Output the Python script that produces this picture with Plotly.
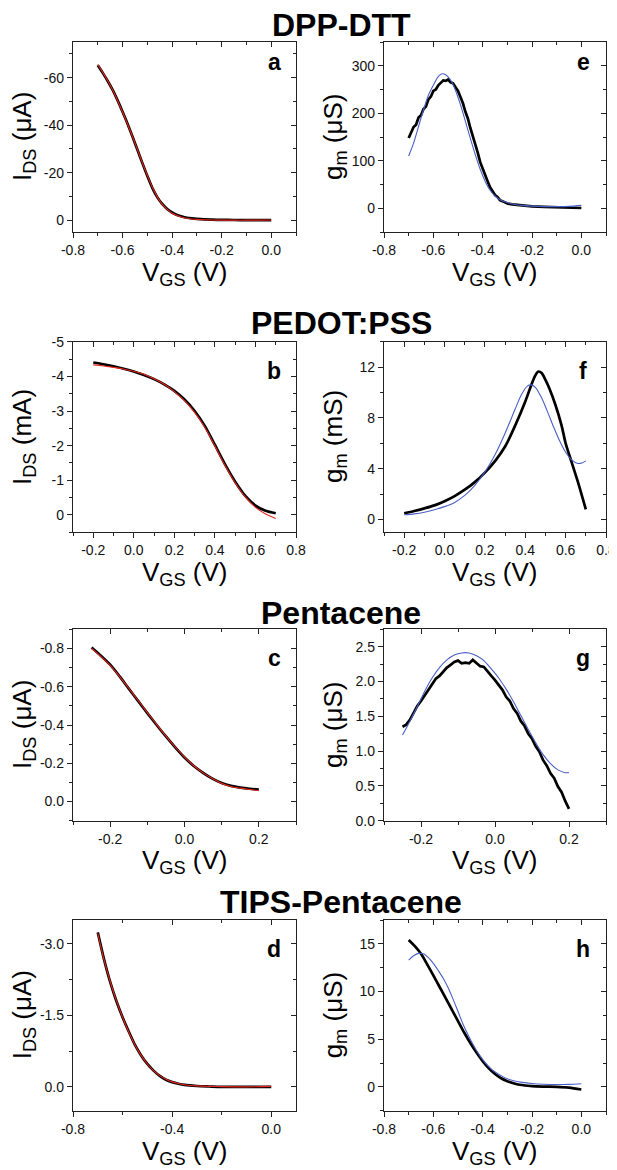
import plotly.graph_objects as go

FONT = "Liberation Sans, Arial, Helvetica, sans-serif"
PAGE_OFFSET = 8          # default <body> margin of the written page
W, H = 617 - PAGE_OFFSET, 1170 - PAGE_OFFSET

# ------------------------------------------------------------------ data
MATERIALS = ["DPP-DTT", "PEDOT:PSS", "Pentacene", "TIPS-Pentacene"]
LETTERS_LEFT = ["a", "b", "c", "d"]
LETTERS_RIGHT = ["e", "f", "g", "h"]
Y_TITLES_LEFT = ["I<sub>DS</sub> (μA)", "I<sub>DS</sub> (mA)", "I<sub>DS</sub> (μA)", "I<sub>DS</sub> (μA)"]
Y_TITLES_RIGHT = ["g<sub>m</sub> (μS)", "g<sub>m</sub> (mS)", "g<sub>m</sub> (μS)", "g<sub>m</sub> (μS)"]
X_TITLE = "V<sub>GS</sub> (V)"

# (a) DPP-DTT transfer curve
A_X = [-0.70, -0.68, -0.66, -0.64, -0.62, -0.60, -0.58, -0.56, -0.54, -0.52, -0.50, -0.48, -0.46, -0.44,
       -0.42, -0.40, -0.38, -0.36, -0.34, -0.32, -0.30, -0.27, -0.24, -0.20, -0.15, -0.10, -0.05, 0.0]
A_MEAS = [-65.2, -62.0, -58.6, -54.8, -50.4, -45.6, -40.6, -35.2, -29.6, -24.0, -18.6, -13.6, -9.7, -6.8,
          -4.7, -3.2, -2.2, -1.5, -1.0, -0.7, -0.5, -0.3, -0.2, -0.1, -0.05, -0.02, 0.0, 0.0]
A_FIT = [-65.5, -62.2, -58.7, -54.8, -50.3, -45.5, -40.5, -35.2, -29.7, -24.1, -18.8, -13.8, -9.8, -6.7,
         -4.5, -2.9, -1.9, -1.2, -0.8, -0.5, -0.3, -0.15, -0.05, 0.0, 0.02, 0.02, 0.0, -0.05]

# (e) DPP-DTT transconductance
E_X_MEAS = [-0.70, -0.69, -0.68, -0.67, -0.66, -0.65, -0.64, -0.63, -0.62, -0.61, -0.60, -0.59, -0.58,
            -0.57, -0.56, -0.55, -0.54, -0.53, -0.52, -0.51, -0.50, -0.49, -0.48, -0.47, -0.46, -0.45,
            -0.44, -0.43, -0.42, -0.41, -0.40, -0.39, -0.38, -0.37, -0.36, -0.35, -0.34, -0.33, -0.32,
            -0.30, -0.28, -0.25, -0.20, -0.15, -0.10, -0.05, 0.0]
E_MEAS = [148, 158, 171, 176, 191, 196, 209, 214, 229, 235, 247, 250, 259, 264, 269, 268, 271, 265, 263,
          255, 247, 234, 221, 203, 189, 169, 153, 133, 117, 97, 83, 67, 57, 44, 37, 28, 24, 17, 15,
          10, 8, 6, 4, 3, 2.5, 1.5, 0.5]
E_FIT_X = [-0.70, -0.68, -0.66, -0.64, -0.62, -0.60, -0.58, -0.565, -0.55, -0.53, -0.51, -0.49, -0.47,
           -0.45, -0.43, -0.41, -0.39, -0.37, -0.35, -0.33, -0.30, -0.27, -0.24, -0.20, -0.15, -0.10,
           -0.05, 0.0]
E_FIT = [110, 137, 172, 207, 238, 259, 277, 283, 281, 270, 248, 218, 183, 147, 113, 82, 57, 38, 26, 18,
         12, 8, 6, 4.5, 3.5, 3.5, 4, 6]

# (b) PEDOT:PSS transfer curve
B_X = [-0.20, -0.15, -0.10, -0.05, 0.00, 0.05, 0.10, 0.15, 0.20, 0.25, 0.30, 0.35, 0.40, 0.45, 0.50,
       0.55, 0.60, 0.65, 0.70]
B_MEAS = [-4.40, -4.35, -4.29, -4.22, -4.14, -4.04, -3.92, -3.77, -3.58, -3.33, -3.00, -2.57, -2.02,
          -1.46, -0.96, -0.55, -0.27, -0.12, -0.05]
B_FIT = [-4.33, -4.30, -4.26, -4.21, -4.15, -4.06, -3.93, -3.77, -3.56, -3.30, -2.96, -2.53, -1.99,
         -1.43, -0.93, -0.52, -0.22, -0.03, 0.10]

# (f) PEDOT:PSS transconductance
F_X_MEAS = [-0.20, -0.15, -0.10, -0.05, 0.00, 0.05, 0.10, 0.15, 0.20, 0.25, 0.30, 0.35, 0.40, 0.43,
            0.45, 0.465, 0.48, 0.50, 0.52, 0.55, 0.58, 0.60, 0.63, 0.66, 0.70]
F_MEAS = [0.50, 0.68, 0.88, 1.12, 1.45, 1.85, 2.35, 2.95, 3.70, 4.60, 5.75, 7.40, 9.30, 10.6, 11.35,
          11.65, 11.55, 11.0, 10.3, 9.0, 7.4, 6.0, 4.5, 3.0, 0.8]
F_FIT_X = [-0.20, -0.15, -0.10, -0.05, 0.00, 0.05, 0.10, 0.15, 0.20, 0.25, 0.30, 0.35, 0.38, 0.41,
           0.43, 0.45, 0.48, 0.51, 0.54, 0.57, 0.60, 0.63, 0.66, 0.68, 0.70]
F_FIT = [0.38, 0.45, 0.58, 0.78, 1.02, 1.35, 1.90, 2.70, 3.75, 5.10, 6.80, 8.70, 9.80, 10.5, 10.6,
         10.4, 9.6, 8.5, 7.3, 6.2, 5.3, 4.7, 4.42, 4.45, 4.62]

# (c) Pentacene transfer curve
C_X = [-0.25, -0.225, -0.20, -0.175, -0.15, -0.125, -0.10, -0.075, -0.05, -0.025, 0.00, 0.025, 0.05,
       0.075, 0.10, 0.125, 0.15, 0.175, 0.20]
C_MEAS = [-0.805, -0.762, -0.715, -0.655, -0.590, -0.526, -0.462, -0.400, -0.340, -0.283, -0.230,
          -0.186, -0.150, -0.120, -0.097, -0.082, -0.073, -0.067, -0.063]
C_FIT = [-0.800, -0.758, -0.712, -0.654, -0.592, -0.528, -0.465, -0.403, -0.342, -0.285, -0.232,
         -0.187, -0.150, -0.120, -0.095, -0.079, -0.070, -0.063, -0.057]

# (g) Pentacene transconductance
G_X_MEAS = [-0.25, -0.24, -0.23, -0.22, -0.21, -0.20, -0.19, -0.18, -0.17, -0.16, -0.15, -0.14, -0.13,
            -0.12, -0.11, -0.10, -0.09, -0.08, -0.07, -0.06, -0.05, -0.04, -0.03, -0.02, -0.01, 0.00,
            0.01, 0.02, 0.03, 0.04, 0.05, 0.06, 0.07, 0.08, 0.09, 0.10, 0.11, 0.12, 0.13, 0.14, 0.15,
            0.16, 0.17, 0.18, 0.19, 0.20]
G_MEAS = [1.35, 1.38, 1.45, 1.55, 1.65, 1.72, 1.80, 1.88, 1.96, 2.04, 2.08, 2.14, 2.20, 2.24, 2.28,
          2.30, 2.26, 2.27, 2.26, 2.31, 2.27, 2.22, 2.21, 2.14, 2.08, 2.02, 1.95, 1.88, 1.78, 1.72,
          1.61, 1.54, 1.43, 1.36, 1.25, 1.18, 1.07, 0.99, 0.87, 0.79, 0.68, 0.61, 0.49, 0.41, 0.28, 0.17]
G_FIT_X = [-0.25, -0.23, -0.21, -0.19, -0.17, -0.15, -0.13, -0.11, -0.09, -0.07, -0.05, -0.03, -0.01,
           0.01, 0.03, 0.05, 0.07, 0.09, 0.11, 0.13, 0.15, 0.17, 0.19, 0.20]
G_FIT = [1.23, 1.43, 1.64, 1.86, 2.05, 2.20, 2.31, 2.38, 2.41, 2.41, 2.37, 2.30, 2.18, 2.05, 1.89,
         1.71, 1.51, 1.31, 1.12, 0.95, 0.82, 0.73, 0.69, 0.69]

# (d) TIPS-Pentacene transfer curve
D_X = [-0.70, -0.675, -0.65, -0.625, -0.60, -0.575, -0.55, -0.525, -0.50, -0.475, -0.45, -0.425,
       -0.40, -0.375, -0.35, -0.30, -0.25, -0.20, -0.10, 0.0]
D_MEAS = [-3.24, -2.68, -2.20, -1.80, -1.46, -1.16, -0.88, -0.66, -0.48, -0.34, -0.23, -0.15, -0.10,
          -0.065, -0.04, -0.018, -0.008, 0.0, 0.0, 0.0]
D_FIT = [-3.22, -2.67, -2.21, -1.81, -1.46, -1.15, -0.88, -0.66, -0.48, -0.34, -0.235, -0.16, -0.105,
         -0.07, -0.045, -0.02, -0.01, -0.005, 0.0, -0.01]

# (h) TIPS-Pentacene transconductance
H_X_MEAS = [-0.70, -0.675, -0.65, -0.625, -0.60, -0.575, -0.55, -0.525, -0.50, -0.475, -0.45, -0.425,
            -0.40, -0.375, -0.35, -0.325, -0.30, -0.275, -0.25, -0.20, -0.15, -0.10, -0.05, 0.00]
H_MEAS = [15.4, 14.75, 13.95, 12.85, 11.7, 10.5, 9.3, 8.1, 6.9, 5.7, 4.6, 3.6, 2.7, 1.95, 1.35, 0.9,
          0.6, 0.38, 0.22, 0.08, 0.03, 0.0, -0.08, -0.28]
H_FIT_X = [-0.70, -0.68, -0.66, -0.64, -0.62, -0.60, -0.58, -0.56, -0.54, -0.52, -0.50, -0.48, -0.46,
           -0.44, -0.42, -0.40, -0.38, -0.36, -0.34, -0.32, -0.30, -0.27, -0.24, -0.20, -0.15, -0.10,
           -0.05, 0.00]
H_FIT = [13.3, 13.75, 14.0, 13.95, 13.55, 12.95, 12.2, 11.4, 10.4, 9.2, 7.9, 6.6, 5.5, 4.5, 3.6, 2.85,
         2.25, 1.75, 1.4, 1.1, 0.85, 0.62, 0.47, 0.35, 0.27, 0.24, 0.26, 0.32]

# tick labels
X_TICKS_DPP = [-0.8, -0.6, -0.4, -0.2, 0.0]
X_TEXT_DPP = ["-0.8", "-0.6", "-0.4", "-0.2", "0.0"]
X_TICKS_PEDOT = [-0.2, 0.0, 0.2, 0.4, 0.6, 0.8]
X_TEXT_PEDOT = ["-0.2", "0.0", "0.2", "0.4", "0.6", "0.8"]
X_TICKS_PENT = [-0.2, 0.0, 0.2]
X_TEXT_PENT = ["-0.2", "0.0", "0.2"]
X_TICKS_TIPS_L = [-0.8, -0.4, 0.0]
X_TEXT_TIPS_L = ["-0.8", "-0.4", "0.0"]
Y_TICKS_A = [-60, -40, -20, 0]
Y_TEXT_A = ["-60", "-40", "-20", "0"]
Y_TICKS_E = [0, 100, 200, 300]
Y_TEXT_E = ["0", "100", "200", "300"]
Y_TICKS_B = [-5, -4, -3, -2, -1, 0]
Y_TEXT_B = ["-5", "-4", "-3", "-2", "-1", "0"]
Y_TICKS_F = [0, 4, 8, 12]
Y_TEXT_F = ["0", "4", "8", "12"]
Y_TICKS_C = [-0.8, -0.6, -0.4, -0.2, 0.0]
Y_TEXT_C = ["-0.8", "-0.6", "-0.4", "-0.2", "0.0"]
Y_TICKS_G = [0.0, 0.5, 1.0, 1.5, 2.0, 2.5]
Y_TEXT_G = ["0.0", "0.5", "1.0", "1.5", "2.0", "2.5"]
Y_TICKS_D = [-3.0, -1.5, 0.0]
Y_TEXT_D = ["-3.0", "-1.5", "0.0"]
Y_TICKS_H = [0, 5, 10, 15]
Y_TEXT_H = ["0", "5", "10", "15"]

# ------------------------------------------------------------------ layout geometry (screen px)
ROW_TOP = [42, 341.7, 629.3, 920]
ROW_BOT = [232, 532.3, 820.7, 1110.7]
COL_L = [73, 384]
COL_R = [296, 606]
TITLE_Y = [24.5, 322.5, 612.5, 902]
LETTER_DY = [20.5, 29, 29, 29]

BLACK = "#000000"
RED = "#e8261c"
BLUE = "#4a5fc6"

panels = [
    dict(r=0, c=0, mx=A_X, my=A_MEAS, fx=A_X, fy=A_FIT, fc=RED, xr=[-0.8, 0.1], yr=[5, -75],
         xt=(X_TICKS_DPP, X_TEXT_DPP), yt=(Y_TICKS_A, Y_TEXT_A), mdx=0.1, mdy=10, noisy=False),
    dict(r=0, c=1, mx=E_X_MEAS, my=E_MEAS, fx=E_FIT_X, fy=E_FIT, fc=BLUE, xr=[-0.8, 0.1], yr=[-50, 350],
         xt=(X_TICKS_DPP, X_TEXT_DPP), yt=(Y_TICKS_E, Y_TEXT_E), mdx=0.1, mdy=50, noisy=True),
    dict(r=1, c=0, mx=B_X, my=B_MEAS, fx=B_X, fy=B_FIT, fc=RED, xr=[-0.3, 0.8], yr=[0.5, -5],
         xt=(X_TICKS_PEDOT, X_TEXT_PEDOT), yt=(Y_TICKS_B, Y_TEXT_B), mdx=0.1, mdy=0.5, noisy=False),
    dict(r=1, c=1, mx=F_X_MEAS, my=F_MEAS, fx=F_FIT_X, fy=F_FIT, fc=BLUE, xr=[-0.3, 0.8], yr=[-1, 14],
         xt=(X_TICKS_PEDOT, X_TEXT_PEDOT), yt=(Y_TICKS_F, Y_TEXT_F), mdx=0.1, mdy=2, noisy=False),
    dict(r=2, c=0, mx=C_X, my=C_MEAS, fx=C_X, fy=C_FIT, fc=RED, xr=[-0.3, 0.3], yr=[0.1, -0.9],
         xt=(X_TICKS_PENT, X_TEXT_PENT), yt=(Y_TICKS_C, Y_TEXT_C), mdx=0.1, mdy=0.1, noisy=False),
    dict(r=2, c=1, mx=G_X_MEAS, my=G_MEAS, fx=G_FIT_X, fy=G_FIT, fc=BLUE, xr=[-0.3, 0.3], yr=[0, 2.75],
         xt=(X_TICKS_PENT, X_TEXT_PENT), yt=(Y_TICKS_G, Y_TEXT_G), mdx=0.1, mdy=0.25, noisy=True),
    dict(r=3, c=0, mx=D_X, my=D_MEAS, fx=D_X, fy=D_FIT, fc=RED, xr=[-0.8, 0.1], yr=[0.5, -3.5],
         xt=(X_TICKS_TIPS_L, X_TEXT_TIPS_L), yt=(Y_TICKS_D, Y_TEXT_D), mdx=0.2, mdy=0.75, noisy=False),
    dict(r=3, c=1, mx=H_X_MEAS, my=H_MEAS, fx=H_FIT_X, fy=H_FIT, fc=BLUE, xr=[-0.8, 0.1], yr=[-2.5, 17.5],
         xt=(X_TICKS_DPP, X_TEXT_DPP), yt=(Y_TICKS_H, Y_TEXT_H), mdx=0.1, mdy=2.5, noisy=False),
]


def px_x(p):
    return (p - PAGE_OFFSET) / W


def px_y(p):
    return 1 - (p - PAGE_OFFSET) / H


fig = go.Figure()
layout = {}
annotations = []
N = len(panels)

tick_font = dict(family=FONT, size=14, color="#111111")
AXC = "#222222"


def minor_ticks(direction, step):
    return dict(ticks=direction, ticklen=3, tickwidth=1.1, tickcolor=AXC,
                tickmode="linear", tick0=0, dtick=step)


for i, p in enumerate(panels, start=1):
    r, c = p["r"], p["c"]
    xs = "" if i == 1 else str(i)
    xd = [px_x(COL_L[c]), px_x(COL_R[c])]
    yd = [px_y(ROW_BOT[r]), px_y(ROW_TOP[r])]

    fig.add_trace(go.Scatter(
        x=p["mx"], y=p["my"], mode="lines", xaxis="x" + xs, yaxis="y" + xs,
        line=dict(color=BLACK, width=2.7, shape="linear" if p["noisy"] else "spline", smoothing=0.8),
        showlegend=False, hoverinfo="skip"))
    fig.add_trace(go.Scatter(
        x=p["fx"], y=p["fy"], mode="lines", xaxis="x" + xs, yaxis="y" + xs,
        line=dict(color=p["fc"], width=1.1, shape="spline", smoothing=0.8),
        showlegend=False, hoverinfo="skip"))

    common = dict(showgrid=False, zeroline=False, showline=True, linecolor=AXC, linewidth=1.3,
                  mirror=True, ticks="outside", ticklen=5, tickwidth=1.2, tickcolor=AXC,
                  tickfont=tick_font, tickmode="array", fixedrange=True, automargin=False)
    layout["xaxis" + xs] = dict(common, domain=xd, anchor="y" + xs, range=p["xr"],
                                tickvals=p["xt"][0], ticktext=p["xt"][1],
                                minor=minor_ticks("outside", p["mdx"]))
    layout["yaxis" + xs] = dict(common, domain=yd, anchor="x" + xs, range=p["yr"],
                                tickvals=p["yt"][0], ticktext=p["yt"][1],
                                minor=minor_ticks("outside", p["mdy"]))

    # top / right frame ticks point inward
    j = str(i + N)
    inner = dict(showgrid=False, zeroline=False, showline=False, showticklabels=False,
                 ticks="inside", ticklen=5, tickwidth=1.2, tickcolor=AXC, tickmode="array",
                 fixedrange=True, automargin=False)
    layout["xaxis" + j] = dict(inner, overlaying="x" + xs, side="top", anchor="y" + xs,
                               range=p["xr"], tickvals=p["xt"][0],
                               minor=minor_ticks("inside", p["mdx"]))
    layout["yaxis" + j] = dict(inner, overlaying="y" + xs, side="right", anchor="x" + xs,
                               range=p["yr"], tickvals=p["yt"][0],
                               minor=minor_ticks("inside", p["mdy"]))
    fig.add_trace(go.Scatter(x=[p["xr"][0]], y=[p["yr"][0]], xaxis="x" + j, yaxis="y" + j,
                             mode="markers", marker=dict(opacity=0, size=1), showlegend=False,
                             hoverinfo="skip"))

    letter = LETTERS_LEFT[r] if c == 0 else LETTERS_RIGHT[r]
    annotations.append(dict(text="<b>%s</b>" % letter, xref="paper", yref="paper",
                            x=px_x(COL_R[c] - 22 if c == 0 else COL_R[c] - 23),
                            y=px_y(ROW_TOP[r] + LETTER_DY[r]), xanchor="center", yanchor="middle",
                            showarrow=False, font=dict(family=FONT, size=23, color="black")))
    annotations.append(dict(text=X_TITLE, xref="paper", yref="paper",
                            x=px_x((COL_L[c] + COL_R[c]) / 2), y=px_y(ROW_TOP[r] + 232),
                            xanchor="center", yanchor="middle", showarrow=False,
                            font=dict(family=FONT, size=26, color="black")))
    ytxt = Y_TITLES_LEFT[r] if c == 0 else Y_TITLES_RIGHT[r]
    annotations.append(dict(text=ytxt, xref="paper", yref="paper", textangle=-90,
                            x=px_x(COL_L[c] - 50), y=px_y((ROW_TOP[r] + ROW_BOT[r]) / 2),
                            xanchor="center", yanchor="middle", showarrow=False,
                            font=dict(family=FONT, size=26, color="black")))

for r, name in enumerate(MATERIALS):
    annotations.append(dict(text="<b>%s</b>" % name, xref="paper", yref="paper",
                            x=px_x(341), y=px_y(TITLE_Y[r]), xanchor="center", yanchor="middle",
                            showarrow=False, font=dict(family=FONT, size=32, color="black")))

fig.update_layout(**layout)
fig.update_layout(width=W, height=H, margin=dict(l=0, r=0, t=0, b=0, pad=0, autoexpand=False),
                  paper_bgcolor="white", plot_bgcolor="white", showlegend=False,
                  annotations=annotations, font=dict(family=FONT))

fig.write_html("out.html")
